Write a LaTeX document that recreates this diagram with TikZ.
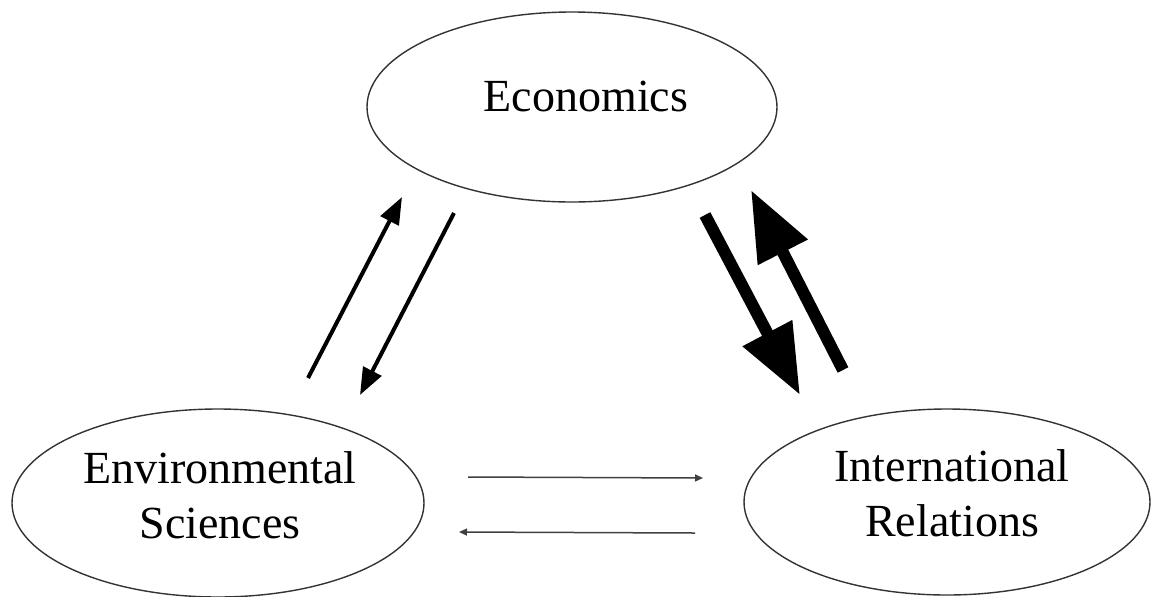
\documentclass[tikz,border=0pt]{standalone}
\usepackage{fontspec}
\setmainfont{Liberation Serif}
\usetikzlibrary{arrows.meta,shapes.geometric}
\begin{document}
\begin{tikzpicture}[x=0.5pt,y=-0.5pt,
  field/.style={draw=black!80,line width=0.7pt,ellipse,inner sep=0pt},
  fieldtext/.style={inner sep=0pt,align=center,font=\fontsize{23}{27.5}\selectfont},
  medlink/.style={line width=2pt,-{Triangle[length=13.5pt,width=10pt]}},
  strong/.style={line width=6pt,-{Triangle[length=35pt,width=26.5pt]}},
  weak/.style={draw=black!75,line width=0.75pt,-{Triangle[length=4pt,width=3.5pt]}}]
  \useasboundingbox (0,0) rectangle (1151,596);

  % the three disciplines
  \node[field,minimum width=205pt,minimum height=95pt] (eco) at (572,107) {};
  \node[field,minimum width=206pt,minimum height=94pt] (env) at (218,503) {};
  \node[field,minimum width=203pt,minimum height=93pt] (ir) at (947,502) {};
  \node[fieldtext,anchor=base] (ecoT) at (586,111) {Economics};
  \node[fieldtext] (envT) at (220,495) {Environmental\\Sciences};
  \node[fieldtext] (irT) at (952,493) {International\\Relations};

  % end points of the links
  \coordinate (a1) at (308,378); \coordinate (a2) at (402,197);
  \coordinate (b1) at (454,213); \coordinate (b2) at (360,395);
  \coordinate (c1) at (705,215); \coordinate (c2) at (800,395);
  \coordinate (d1) at (843,370); \coordinate (d2) at (751,190);
  \coordinate (e1) at (468,477); \coordinate (e2) at (703,478);
  \coordinate (f1) at (695,533); \coordinate (f2) at (459,532);

  % links between the disciplines
  \draw[medlink] (a1) -- (a2);
  \draw[medlink] (b1) -- (b2);
  \draw[strong] (c1) -- (c2);
  \draw[strong] (d1) -- (d2);
  \draw[weak] (e1) -- (e2);
  \draw[weak] (f1) -- (f2);
\end{tikzpicture}
\end{document}
